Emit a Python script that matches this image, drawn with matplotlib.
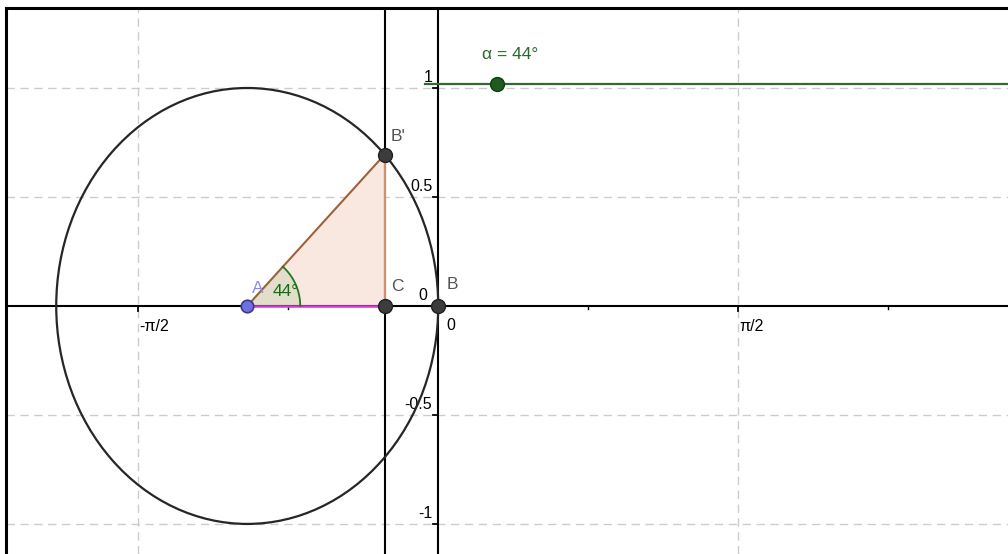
import numpy as np
import matplotlib.pyplot as plt
from matplotlib.patches import Polygon, Ellipse

# construction data (GeoGebra-style unit circle / angle figure)
alpha_deg = 44
A = (-1.0, 0.0)          # circle centre
B = (0.0, 0.0)           # point on circle at angle 0
radius = 1.0
slider_y = 1.02
slider_x = (-0.07, 3.2)
slider_pos = 0.307

x_major = [-np.pi / 2, np.pi / 2]
x_major_labels = ['-π/2', 'π/2']
x_minor = [-3 * np.pi / 4, -np.pi / 4, np.pi / 4, 3 * np.pi / 4]
y_major = [-1, -0.5, 0.5, 1]
y_major_labels = ['-1', '-0.5', '0.5', '1']

xlim = (-2.263, 2.983)
ylim = (-1.138, 1.367)

plt.rcParams['font.family'] = ['Liberation Sans', 'DejaVu Sans']

fig = plt.figure(figsize=(10.08, 5.54), dpi=100)
ax = fig.add_axes([6 / 1008, 0, 1 - 6 / 1008, 1 - 8 / 554])
ax.set_xlim(*xlim)
ax.set_ylim(*ylim)
ax.set_xticks([])
ax.set_yticks([])
for s in ['right', 'bottom']:
    ax.spines[s].set_visible(False)
for s in ['top', 'left']:
    ax.spines[s].set_linewidth(2.2)
    ax.spines[s].set_color('black')

# pixels per data unit (for screen-sized decorations)
px_x = 1002 / (xlim[1] - xlim[0])
px_y = 546 / (ylim[1] - ylim[0])

# grid
grid_kw = dict(color='#cccccc', lw=1.0, dashes=(6, 4), zorder=0)
for gx in x_major:
    ax.axvline(gx, **grid_kw)
for gy in y_major:
    ax.axhline(gy, **grid_kw)

# axes
ax.axhline(0, color='black', lw=1.5, zorder=2)
ax.axvline(0, color='black', lw=1.5, zorder=2)

# ticks
for tx in x_major:
    ax.plot([tx, tx], [0, -5 / px_y], color='black', lw=1.3, zorder=2)
for tx in x_minor:
    ax.plot([tx, tx], [0, -3 / px_y], color='black', lw=1.0, zorder=2)
for ty in y_major:
    ax.plot([0, -5 / px_x], [ty, ty], color='black', lw=1.3, zorder=2)

fs = 11.5
for tx, lab in zip(x_major, x_major_labels):
    ax.annotate(lab, (tx, 0), xytext=(1, -21), textcoords='offset pixels',
                ha='left', va='center', fontsize=fs, color='black')
for ty, lab in zip(y_major, y_major_labels):
    ax.annotate(lab, (0, ty), xytext=(-6, 10), textcoords='offset pixels',
                ha='right', va='center', fontsize=fs, color='black')
ax.annotate('0', (0, 0), xytext=(-15, 10), textcoords='offset pixels',
            ha='center', va='center', fontsize=fs)
ax.annotate('0', (0, 0), xytext=(13, -20), textcoords='offset pixels',
            ha='center', va='center', fontsize=fs)

# derived points
a = np.deg2rad(alpha_deg)
Bp = (A[0] + radius * np.cos(a), A[1] + radius * np.sin(a))
C = (Bp[0], 0.0)

# circle
ax.add_patch(Ellipse(A, 2 * radius, 2 * radius, fill=False, ec='#262626', lw=1.6, zorder=3))

# vertical line through B' and C
ax.axvline(Bp[0], color='black', lw=1.5, zorder=2)

# triangle A C B'
ax.add_patch(Polygon([A, C, Bp], closed=True, fc='#f8e8df', ec='none', zorder=1))
ax.plot([A[0], Bp[0]], [A[1], Bp[1]], color='#a0603a', lw=1.5, zorder=4)
ax.plot([C[0], Bp[0]], [C[1], Bp[1]], color='#d09070', lw=1.5, zorder=3)
ax.plot([A[0], C[0]], [A[1], C[1]], color='#d040d0', lw=1.8, zorder=4)

# angle marker (circular on screen)
r_px = 53
screen_ang = np.arctan2(np.sin(a) * px_y, np.cos(a) * px_x)
t = np.linspace(0, screen_ang, 40)
arc = np.column_stack([A[0] + r_px * np.cos(t) / px_x, A[1] + r_px * np.sin(t) / px_y])
ax.add_patch(Polygon(np.vstack([A, arc]), closed=True, fc='#2e8b2e', alpha=0.1, ec='none', zorder=4))
ax.plot(arc[:, 0], arc[:, 1], color='#1f7a1f', lw=1.3, zorder=5)
ax.annotate(f'{alpha_deg}°', A, xytext=(38, 14), textcoords='offset pixels',
            ha='center', va='center', fontsize=fs + 1, color='#107010', zorder=6)

# points
ax.plot(*A, 'o', ms=9, mfc='#6f6fe0', mec='#3a3a8a', mew=1.2, zorder=7)
for P in (Bp, C, B):
    ax.plot(*P, 'o', ms=10, mfc='#3c3c3c', mec='#202020', zorder=7)

lab_kw = dict(textcoords='offset pixels', ha='center', va='center', fontsize=fs + 1, zorder=8)
ax.annotate('A', A, xytext=(11, 17), color='#8c8cf0', **lab_kw)
ax.annotate("B'", Bp, xytext=(13, 18), color='#555555', **lab_kw)
ax.annotate('C', C, xytext=(13, 19), color='#555555', **lab_kw)
ax.annotate('B', B, xytext=(14, 21), color='#555555', **lab_kw)

# slider for alpha
ax.plot(slider_x, [slider_y, slider_y], color='#2f6b2f', lw=1.6, zorder=5)
ax.plot(slider_pos, slider_y, 'o', ms=10, mfc='#1f5a1f', mec='#123c12', zorder=7)
ax.annotate(f'α = {alpha_deg}°', (slider_pos, slider_y), xytext=(13, 29), textcoords='offset pixels',
            ha='center', va='center', fontsize=fs + 1, color='#2a6a2a')

fig.savefig('out.png', dpi=100)
